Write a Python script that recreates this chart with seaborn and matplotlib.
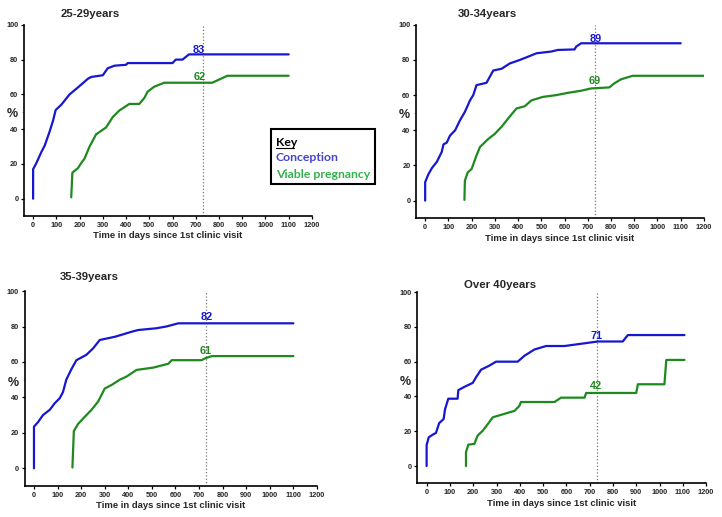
import matplotlib
matplotlib.use("Agg")
import matplotlib.pyplot as plt
from matplotlib.patches import Rectangle
from matplotlib.lines import Line2D
import seaborn as sns
import pandas as pd

# ---------------- data ----------------
panel_titles = ["25-29years", "30-34years", "35-39years", "Over 40years"]
series_names = ["Conception", "Viable pregnancy"]

# 25-29 years
p1_conc_days = [0, 0, 14, 36, 50, 71, 86, 97, 121, 157, 193, 236, 250, 300, 321, 350, 400, 407, 600, 614, 643, 671, 1100]
p1_conc_pct = [0, 17, 20.5, 27, 30.6, 38.6, 45, 51, 54, 60, 64, 69, 70, 71, 75, 76.5, 77, 78, 78, 80, 80, 83, 83]
p1_viab_days = [164, 169, 193, 207, 221, 243, 271, 314, 343, 371, 414, 457, 479, 493, 521, 564, 771, 836, 1100]
p1_viab_pct = [0.8, 15, 17.6, 20.5, 23, 30, 37, 41, 47, 50.7, 54.5, 54.5, 58, 61.6, 64.4, 66.7, 66.7, 70.7, 70.7]

# 30-34 years
p2_conc_days = [0, 0, 14, 29, 50, 71, 79, 93, 107, 129, 150, 171, 193, 207, 221, 264, 293, 329, 364, 407, 436, 479, 543, 571, 643, 650, 671, 1100]
p2_conc_pct = [0, 10.5, 15, 18.5, 22, 27.6, 32, 33, 37, 40, 45.7, 50.5, 57, 60, 65.7, 67, 74, 75, 78, 80, 81.5, 83.8, 84.8, 85.7, 86, 87.6, 89.5, 89.5]
p2_viab_days = [169, 171, 183, 200, 221, 236, 271, 300, 329, 357, 393, 429, 457, 507, 564, 614, 671, 714, 793, 814, 843, 893, 1200]
p2_viab_pct = [0.4, 11.4, 16, 18, 25.7, 30.5, 35, 38, 42, 46.7, 52.4, 53.7, 57, 59, 60, 61.3, 62.5, 63.8, 64.4, 66.7, 69, 71, 71]

# 35-39 years
p3_conc_days = [0, 0, 17, 38, 67, 88, 109, 123, 137, 159, 180, 222, 251, 279, 343, 413, 441, 518, 561, 612, 1100]
p3_conc_pct = [0, 23.5, 26, 30, 33, 36.7, 39.5, 43, 50, 56, 61, 64, 67.7, 72.4, 74.2, 77, 78, 79, 80, 81.8, 81.8]
p3_viab_days = [163, 169, 187, 215, 244, 272, 300, 329, 364, 392, 435, 506, 570, 584, 711, 725, 754, 1100]
p3_viab_pct = [0.4, 21, 25, 29, 33, 37.6, 45, 47, 50, 51.7, 55.5, 56.8, 59, 61, 61, 62, 63.3, 63.3]

# Over 40 years
p4_conc_days = [0, 0, 9, 26, 40, 54, 73, 79, 93, 133, 136, 162, 198, 212, 234, 269, 298, 391, 420, 463, 513, 592, 735, 842, 864, 1107]
p4_conc_pct = [0, 12, 16.5, 18, 19, 24.7, 27, 32.6, 38.7, 38.7, 43.6, 45.5, 47.8, 51, 55.4, 57.7, 60, 60, 63.4, 67, 69, 69, 71.6, 71.6, 75.3, 75.3]
p4_viab_days = [169, 169, 179, 205, 219, 241, 262, 284, 334, 377, 398, 405, 549, 577, 678, 685, 900, 907, 1021, 1029, 1107]
p4_viab_pct = [0, 8, 12.3, 12.7, 17.5, 20.3, 24, 28, 30, 31.7, 34.5, 36.8, 36.8, 39.3, 39.3, 42, 42, 47, 47, 61, 61]

# two-year rates shown as labels
conc_labels = ["83", "89", "82", "71"]
viab_labels = ["62", "69", "61", "42"]

x_ticks = list(range(0, 1300, 100))
y_ticks = [0, 20, 40, 60, 80, 100]
cutoff_day = 730

panels = [
    (p1_conc_days, p1_conc_pct, p1_viab_days, p1_viab_pct),
    (p2_conc_days, p2_conc_pct, p2_viab_days, p2_viab_pct),
    (p3_conc_days, p3_conc_pct, p3_viab_days, p3_viab_pct),
    (p4_conc_days, p4_conc_pct, p4_viab_days, p4_viab_pct),
]

# ---------------- layout / style ----------------
conc_color = "#1717cf"
viab_color = "#1e8a1e"
key_conc_color = "#4444cc"
key_viab_color = "#33b14c"

axes_rects = [
    [0.033, 0.582, 0.399, 0.370],
    [0.576, 0.578, 0.399, 0.374],
    [0.034, 0.060, 0.405, 0.377],
    [0.578, 0.065, 0.400, 0.370],
]
title_pos = [(0.084, 0.973), (0.634, 0.973), (0.083, 0.464), (0.643, 0.449)]
conc_label_y = [85.8, 92.0, 85.5, 74.8]
viab_label_y = [70.0, 68.0, 66.0, 46.0]
conc_label_x = [714, 733, 732, 728]
viab_label_x = [719, 729, 728, 728]

sns.set_theme(style="ticks")
plt.rcParams["font.family"] = ["Liberation Sans", "DejaVu Sans"]
plt.rcParams["font.weight"] = "bold"

fig = plt.figure(figsize=(7.22, 5.17), dpi=100)

for i, (cd, cp, vd, vp) in enumerate(panels):
    ax = fig.add_axes(axes_rects[i])
    df = pd.concat([
        pd.DataFrame({"day": cd, "pct": cp, "series": series_names[0]}),
        pd.DataFrame({"day": vd, "pct": vp, "series": series_names[1]}),
    ], ignore_index=True)
    sns.lineplot(data=df, x="day", y="pct", hue="series",
                 palette={series_names[0]: conc_color, series_names[1]: viab_color},
                 estimator=None, sort=False, legend=False, linewidth=1.6, ax=ax)
    ax.axvline(cutoff_day, color="#777777", linestyle=":", linewidth=0.9, zorder=0)
    ax.set_xlim(-40, 1200)
    ax.set_ylim(-10, 100)
    ax.set_xticks(x_ticks)
    ax.set_yticks(y_ticks)
    ax.set_yticks([50], minor=True)
    ax.tick_params(axis="both", which="major", labelsize=5.3, length=2.5, width=0.9,
                   color="black", pad=1.5)
    ax.tick_params(axis="y", which="minor", length=1.5, width=0.6, color="#999999")
    for lab in ax.get_xticklabels() + ax.get_yticklabels():
        lab.set_fontweight("bold")
    for side in ["top", "right"]:
        ax.spines[side].set_visible(False)
    for side in ["left", "bottom"]:
        ax.spines[side].set_linewidth(1.2)
        ax.spines[side].set_color("black")
    ax.set_xlabel("Time in days since 1st clinic visit", fontsize=6.8, fontweight="bold", labelpad=2)
    ax.set_ylabel("%", fontsize=9, fontweight="bold", rotation=0, labelpad=6)
    ax.yaxis.set_label_coords(-0.04, 0.5)
    ax.text(conc_label_x[i], conc_label_y[i], conc_labels[i], color=conc_color,
            fontsize=7.8, fontweight="bold", ha="center", va="center")
    ax.text(viab_label_x[i], viab_label_y[i], viab_labels[i], color=viab_color,
            fontsize=7.8, fontweight="bold", ha="center", va="center")
    fig.text(title_pos[i][0], title_pos[i][1], panel_titles[i], fontsize=8.2,
             fontweight="bold", ha="left", va="center")

# key box
fig.patches.append(Rectangle((0.375, 0.644), 0.145, 0.106, transform=fig.transFigure,
                             fill=False, edgecolor="black", linewidth=1.5))
kx = 0.382
fig.text(kx, 1 - 142 / 517, "Key", fontsize=8.8, fontweight="bold", color="black",
         ha="left", va="center", family=["Lato", "DejaVu Sans"])
fig.lines.append(Line2D([kx, kx + 0.025], [1 - 148 / 517, 1 - 148 / 517],
                        transform=fig.transFigure, color="black", linewidth=0.8))
fig.text(kx, 1 - 158 / 517, series_names[0], fontsize=8.8, fontweight="bold",
         color=key_conc_color, ha="left", va="center", family=["Lato", "DejaVu Sans"])
fig.text(kx, 1 - 175 / 517, series_names[1], fontsize=8.8, fontweight="bold",
         color=key_viab_color, ha="left", va="center", family=["Lato", "DejaVu Sans"])

fig.savefig("out.png", dpi=100)
